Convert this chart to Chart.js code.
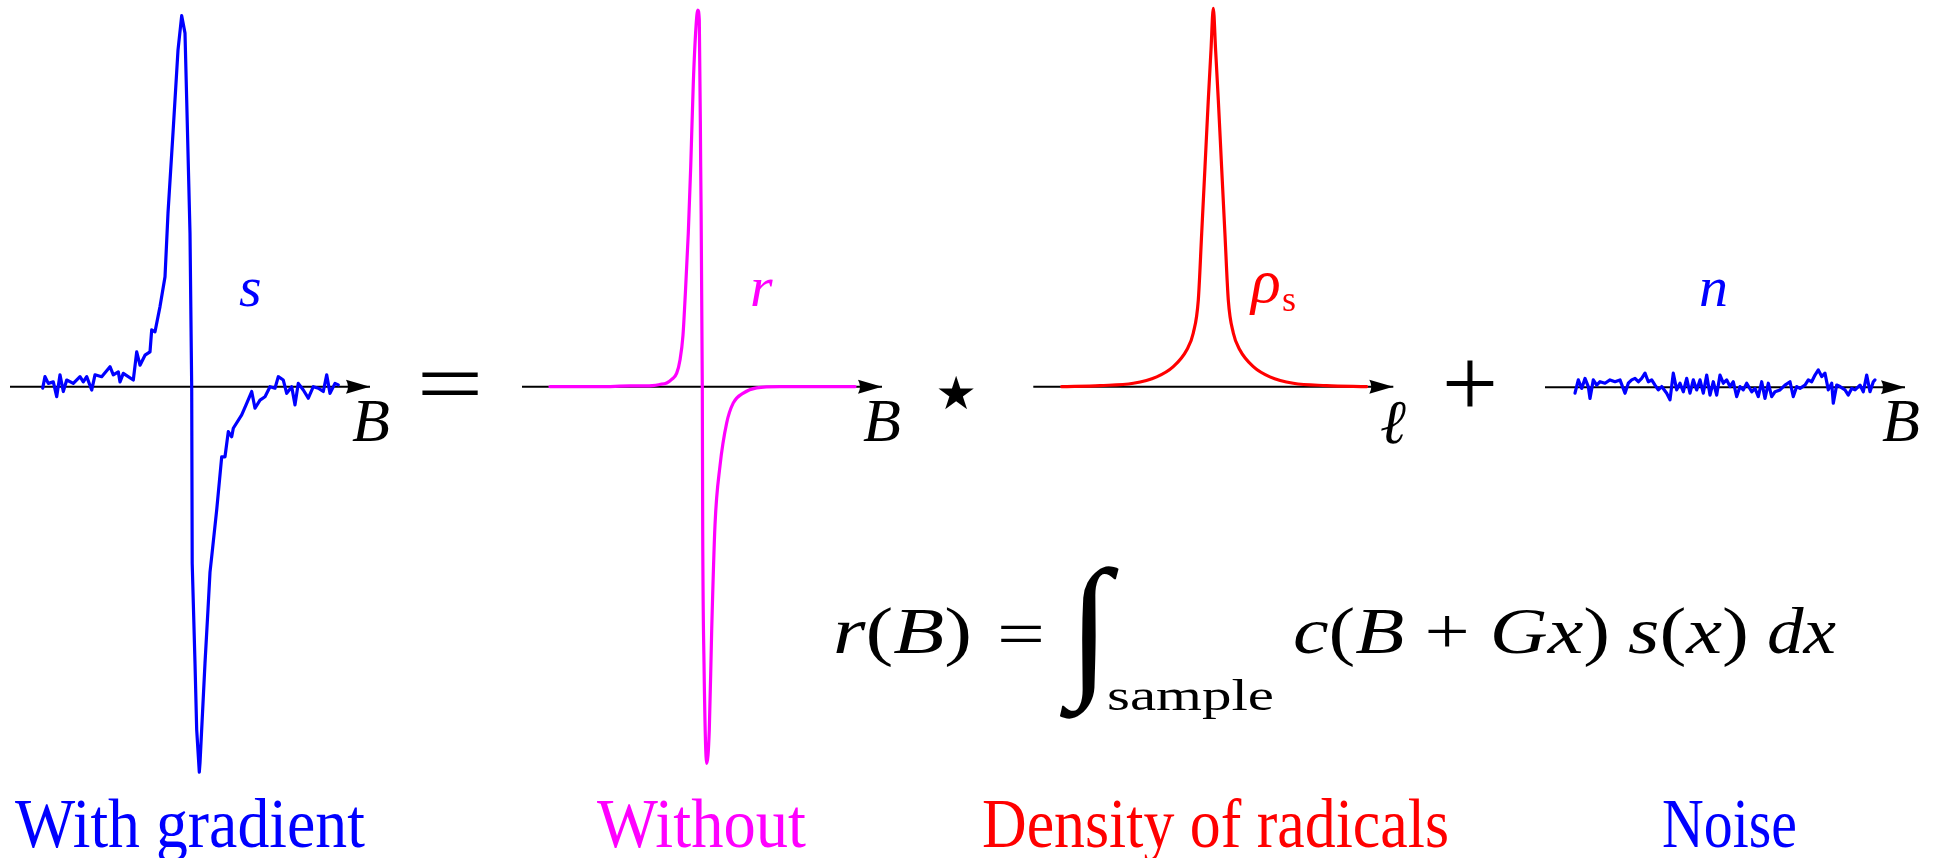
<!DOCTYPE html>
<html>
<head>
<meta charset="utf-8">
<script src="https://cdn.jsdelivr.net/npm/chart.js@4.4.1/dist/chart.umd.min.js"></script>
<style>
  html, body { margin: 0; padding: 0; background: #fff; }
  #fig { position: relative; width: 1939px; height: 858px; overflow: hidden; }
  .panel { position: absolute; top: 0; }
  #labels { position: absolute; left: 0; top: 0; }
  #labels text { font-family: "Liberation Serif", serif; }
</style>
</head>
<body>
<div id="fig">
  <div class="panel" style="left:0px"><canvas id="grad" width="400" height="800"></canvas></div>
  <div class="panel" style="left:500px"><canvas id="bare" width="400" height="800"></canvas></div>
  <div class="panel" style="left:1010px"><canvas id="dens" width="400" height="800"></canvas></div>
  <div class="panel" style="left:1520px"><canvas id="noise" width="400" height="800"></canvas></div>

  <svg id="labels" width="1939" height="858" font-family="Liberation Serif">
    <!-- curve names -->
    <text x="239" y="306" font-size="58" font-style="italic" fill="#0000ff">s</text>
    <text x="750" y="306" font-size="58" font-style="italic" fill="#ff00ff">r</text>
    <text x="1251" y="302" font-size="62" font-style="italic" fill="#ff0000">ρ</text>
    <text x="1282" y="311" font-size="36" fill="#ff0000">s</text>
    <text x="1699" y="306" font-size="58" font-style="italic" fill="#0000ff">n</text>

    <!-- axis names -->
    <text x="352" y="441" font-size="62" font-style="italic" fill="#000">B</text>
    <text x="863" y="441" font-size="62" font-style="italic" fill="#000">B</text>
    <text x="1380" y="443" font-size="62" font-style="italic" fill="#000">ℓ</text>
    <text x="1882" y="441" font-size="62" font-style="italic" fill="#000">B</text>

    <!-- operators between the panels -->
    <text x="450" y="413" font-size="89" text-anchor="middle" fill="#000" textLength="67" lengthAdjust="spacingAndGlyphs">=</text>
    <text x="956" y="409" font-size="46" text-anchor="middle" fill="#000" style="font-family:'DejaVu Sans'">★</text>
    <text x="1470" y="417" font-size="100" text-anchor="middle" fill="#000">+</text>

    <!-- r(B) = ∫ c(B+Gx) s(x) dx -->
    <text x="833" y="653" font-size="66" fill="#000" textLength="139" lengthAdjust="spacingAndGlyphs"><tspan font-style="italic">r</tspan>(<tspan font-style="italic">B</tspan>)</text>
    <text x="997" y="656" font-size="66" fill="#000" textLength="48" lengthAdjust="spacingAndGlyphs">=</text>
    <text x="1068" y="677" font-size="155" font-style="italic" fill="#000">∫</text>
    <text x="1107" y="710" font-size="45" fill="#000" textLength="167" lengthAdjust="spacingAndGlyphs">sample</text>
    <text x="1293" y="653" font-size="66" fill="#000" textLength="317" lengthAdjust="spacingAndGlyphs"><tspan font-style="italic">c</tspan>(<tspan font-style="italic">B</tspan> + <tspan font-style="italic">Gx</tspan>)</text>
    <text x="1628" y="653" font-size="66" fill="#000" textLength="121" lengthAdjust="spacingAndGlyphs"><tspan font-style="italic">s</tspan>(<tspan font-style="italic">x</tspan>)</text>
    <text x="1767" y="653" font-size="66" font-style="italic" fill="#000" textLength="69" lengthAdjust="spacingAndGlyphs">dx</text>

    <!-- captions -->
    <text x="15" y="847" font-size="70" fill="#0000ff" textLength="350" lengthAdjust="spacingAndGlyphs">With gradient</text>
    <text x="597" y="847" font-size="70" fill="#ff00ff" textLength="209" lengthAdjust="spacingAndGlyphs">Without</text>
    <text x="982" y="847" font-size="70" fill="#ff0000" textLength="467" lengthAdjust="spacingAndGlyphs">Density of radicals</text>
    <text x="1662" y="847" font-size="70" fill="#0000ff" textLength="135" lengthAdjust="spacingAndGlyphs">Noise</text>
  </svg>
</div>

<script>
// signal measured with the field gradient on
const gradB = [-1.473, -1.45, -1.417, -1.367, -1.333, -1.30, -1.267, -1.233, -1.167, -1.10, -1.067, -1.033,
  -0.983, -0.95, -0.883, -0.80, -0.767, -0.717, -0.70, -0.667, -0.567, -0.533, -0.50, -0.45, -0.40, -0.383,
  -0.35, -0.30, -0.25, -0.22, -0.17, -0.12, -0.083, -0.05, -0.033, 0.0, 0.017, 0.022, 0.05, 0.067, 0.093,
  0.10, 0.125, 0.15, 0.18, 0.20, 0.217, 0.267, 0.317, 0.35, 0.383, 0.417, 0.433, 0.517, 0.567, 0.617, 0.65,
  0.70, 0.75, 0.80, 0.85, 0.883, 0.933, 0.967, 1.017, 1.05, 1.083, 1.133, 1.183, 1.233, 1.283, 1.333, 1.367,
  1.40, 1.45, 1.483];
const gradS = [-0.004, 0.027, 0.009, 0.013, -0.027, 0.032, -0.013, 0.018, 0.009, 0.027, 0.013, 0.027,
  -0.009, 0.032, 0.027, 0.054, 0.032, 0.040, 0.013, 0.036, 0.018, 0.094, 0.058, 0.085, 0.094, 0.153,
  0.148, 0.216, 0.296, 0.468, 0.684, 0.907, 1.0, 0.953, 0.773, 0.414, 0.0, -0.476, -0.745, -0.925, -1.039,
  -1.014, -0.88, -0.745, -0.60, -0.50, -0.458, -0.332, -0.189, -0.189, -0.121, -0.135, -0.112, -0.076, -0.045, -0.013, -0.058,
  -0.036, -0.027, 0.0, -0.004, 0.027, 0.018, -0.018, 0.0, -0.049, 0.009, -0.009, -0.031, 0.0, -0.004, -0.013, 0.032,
  -0.018, 0.009, 0.005];

// same line without the gradient
const bareB = [-1.52, -1.02, -0.72, -0.553, -0.42, -0.353, -0.30, -0.253, -0.22, -0.19, -0.17, -0.137,
  -0.113, -0.087, -0.06, -0.042, -0.027, -0.013, 0.003, 0.007, 0.02, 0.047, 0.073, 0.097, 0.13, 0.18,
  0.247, 0.313, 0.413, 0.547, 0.78, 1.53];
const bareR = [0, 0, 0.002, 0.002, 0.006, 0.010, 0.020, 0.036, 0.071, 0.137, 0.230, 0.408,
  0.583, 0.806, 0.956, 1.0, 0.973, 0.583, 0, -0.380, -0.733, -1.0, -0.911, -0.646, -0.367, -0.210,
  -0.096, -0.043, -0.017, -0.003, 0, 0];

// radical density along the sample
const ellVals = [-1.516, -1.133, -0.80, -0.566, -0.40, -0.266, -0.20, -0.15, -0.116, -0.083, -0.05, -0.023, 0,
  0.023, 0.05, 0.083, 0.116, 0.15, 0.20, 0.266, 0.40, 0.566, 0.80, 1.133, 1.533];
const rhoVals = [0, 0.003, 0.009, 0.026, 0.053, 0.097, 0.142, 0.229, 0.406, 0.581, 0.758, 0.890, 1.0,
  0.890, 0.758, 0.581, 0.406, 0.229, 0.142, 0.097, 0.053, 0.026, 0.009, 0.003, 0];

// noise trace
const noiseB = [-1.50, -1.467, -1.433, -1.40, -1.367, -1.35, -1.317, -1.283, -1.25, -1.20, -1.15, -1.10,
  -1.05, -1.0, -0.967, -0.933, -0.90, -0.867, -0.833, -0.80, -0.767, -0.733, -0.70, -0.667, -0.633, -0.583,
  -0.55, -0.517, -0.483, -0.45, -0.417, -0.383, -0.35, -0.317, -0.283, -0.25, -0.217, -0.183, -0.15, -0.117,
  -0.083, -0.05, -0.017, 0.017, 0.05, 0.083, 0.117, 0.15, 0.183, 0.217, 0.267, 0.30, 0.333, 0.367, 0.40,
  0.433, 0.467, 0.50, 0.55, 0.60, 0.65, 0.683, 0.717, 0.75, 0.80, 0.833, 0.867, 0.90, 0.933, 0.967, 1.0,
  1.033, 1.067, 1.083, 1.117, 1.15, 1.20, 1.233, 1.267, 1.30, 1.35, 1.383, 1.417, 1.45, 1.483, 1.50];
const noiseN = [-0.016, 0.020, -0.003, 0.024, 0.002, -0.030, 0.020, 0.006, 0.015, 0.011, 0.020, 0.015,
  0.020, -0.016, 0.011, 0.020, 0.024, 0.015, 0.024, 0.038, 0.015, 0.020, 0.006, -0.007, 0.002, -0.016,
  -0.034, 0.038, -0.007, 0.011, -0.012, 0.024, -0.016, 0.020, -0.007, 0.020, -0.016, 0.033, -0.021, 0.015,
  -0.021, 0.033, 0.011, 0.020, 0.002, 0.015, -0.025, 0.002, -0.007, 0.011, -0.012, -0.003, -0.025, 0.015, -0.030,
  0.011, -0.025, -0.012, -0.007, 0.006, 0.015, -0.025, 0.002, -0.003, 0.006, 0.020, 0.015, 0.033, 0.047, 0.029, 0.038,
  -0.007, 0.011, -0.043, 0.006, 0.002, -0.007, -0.021, -0.003, -0.007, 0.006, -0.012, 0.033, -0.012, 0.015, 0.020];

// every horizontal axis runs over the same field range
const axisRange = [-1.8, 1.8];

// where each panel sits on the page (pixels)
const H = 800;
const panels = [
  { id: 'grad',  left: 0,    center: 190,    axisY: 386.7, unit: 371,   xs: gradB,   ys: gradS,   color: '#0000ff', smooth: false },
  { id: 'bare',  left: 500,  center: 702,    axisY: 386.7, unit: 376.7, xs: bareB,   ys: bareR,   color: '#ff00ff', smooth: true },
  { id: 'dens',  left: 1010, center: 1213.3, axisY: 386.7, unit: 378.4, xs: ellVals, ys: rhoVals, color: '#ff0000', smooth: true },
  { id: 'noise', left: 1520, center: 1725,   axisY: 387.3, unit: 371,   xs: noiseB,  ys: noiseN,  color: '#0000ff', smooth: false }
];

// arrow head at the end of the horizontal axis
const arrowHead = {
  id: 'arrowHead',
  afterDatasetsDraw(chart) {
    const {ctx, scales: {x, y}} = chart;
    const tip = x.getPixelForValue(axisRange[1]);
    const y0 = y.getPixelForValue(0);
    ctx.save();
    ctx.fillStyle = '#000';
    ctx.beginPath();
    ctx.moveTo(tip, y0);
    ctx.lineTo(tip - 24, y0 - 7);
    ctx.quadraticCurveTo(tip - 20, y0, tip - 24, y0 + 7);
    ctx.closePath();
    ctx.fill();
    ctx.restore();
  }
};

panels.forEach(p => {
  const pts = p.xs.map((x, i) => ({x: x, y: p.ys[i]}));
  const axisPts = axisRange.map(x => ({x: x, y: 0}));
  new Chart(document.getElementById(p.id), {
    type: 'line',
    data: {
      datasets: [
        {
          data: pts,
          borderColor: p.color,
          borderWidth: 3.2,
          pointRadius: 0,
          tension: 0,
          cubicInterpolationMode: p.smooth ? 'monotone' : 'default',
          borderJoinStyle: 'round',
          borderCapStyle: 'round',
          fill: false
        },
        {
          data: axisPts,
          borderColor: '#000',
          borderWidth: 2,
          pointRadius: 0,
          fill: false
        }
      ]
    },
    options: {
      responsive: false,
      animation: false,
      events: [],
      layout: { padding: 0 },
      plugins: { legend: { display: false }, tooltip: { enabled: false } },
      scales: {
        x: {
          type: 'linear',
          display: false,
          min: (p.left - p.center) / 100,
          max: (p.left + 400 - p.center) / 100
        },
        y: {
          type: 'linear',
          display: false,
          min: -(H - p.axisY) / p.unit,
          max: p.axisY / p.unit
        }
      }
    },
    plugins: [arrowHead]
  });
});
</script>
</body>
</html>
